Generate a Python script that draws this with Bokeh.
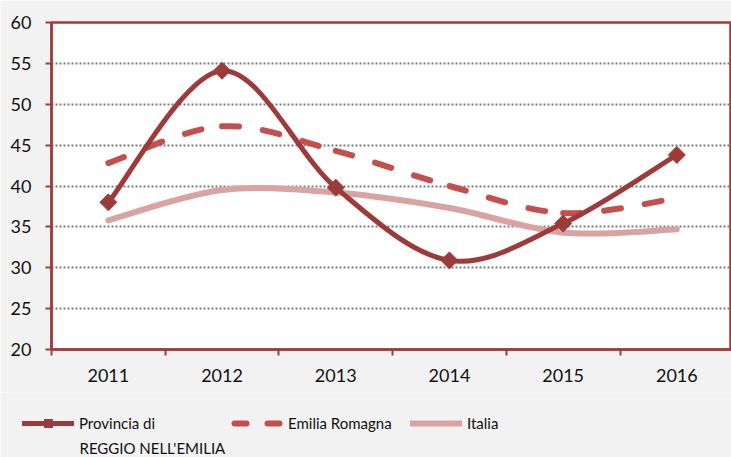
from bokeh.plotting import figure
from bokeh.layouts import column, row
from bokeh.models import Range1d, FixedTicker, Legend, LegendItem, Label, ColumnDataSource
from bokeh.embed import file_html
from bokeh.resources import INLINE
import numpy as np

years = ["2011", "2012", "2013", "2014", "2015", "2016"]
provincia = [38.0, 54.1, 39.8, 30.9, 35.4, 43.8]
emilia = [42.8, 47.3, 44.3, 40.0, 36.7, 38.5]
italia = [35.8, 39.5, 39.2, 37.3, 34.3, 34.7]
y_ticks = [20, 25, 30, 35, 40, 45, 50, 55, 60]

C_PROV = "#9c3b39"
C_EMIL = "#c44f4c"
C_ITAL = "#d9a3a2"
C_AXIS = "#a03c3a"
BG = "#f2f2f2"
FONT = "Lato"

p = figure(frame_width=680, frame_height=327, width=731, height=392,
           min_border_left=51, min_border_right=0, min_border_top=22, min_border_bottom=43,
           x_range=Range1d(-0.5, -0.5 + 680 / 113.7), y_range=Range1d(20, 60),
           output_backend="svg", toolbar_location=None)
p.background_fill_color = "white"
p.border_fill_color = BG
p.outline_line_color = C_AXIS
p.outline_line_width = 2.5

xs = list(range(len(years)))
p.xaxis.ticker = FixedTicker(ticks=xs, minor_ticks=[i + 0.5 for i in range(-1, len(years))])
p.xaxis.major_label_overrides = {i: y for i, y in enumerate(years)}
p.xaxis.major_tick_line_color = None
p.xaxis.minor_tick_line_color = C_AXIS
p.xaxis.minor_tick_line_width = 2
p.xaxis.minor_tick_out = 6
p.xaxis.minor_tick_in = 0
p.xaxis.major_label_standoff = 13
p.yaxis.ticker = FixedTicker(ticks=y_ticks)
p.yaxis.minor_tick_line_color = None
p.yaxis.major_tick_line_color = C_AXIS
p.yaxis.major_tick_line_width = 2
p.yaxis.major_tick_out = 6
p.yaxis.major_tick_in = 0
p.yaxis.major_label_standoff = 14
for ax in (p.xaxis, p.yaxis):
    ax.axis_line_color = C_AXIS
    ax.axis_line_width = 2.5
    ax.major_label_text_font = FONT
    ax.major_label_text_font_size = "18px"
    ax.major_label_text_color = "#111111"
p.xgrid.grid_line_color = None
p.ygrid.grid_line_color = "#7a7a7a"
p.ygrid.grid_line_width = 2
p.ygrid.grid_line_dash = "2 2"


def bez(vals):
    n = len(vals)
    x0, y0, x1, y1, cx0, cy0, cx1, cy1 = [], [], [], [], [], [], [], []
    for i in range(n - 1):
        im = max(i - 1, 0)
        ip2 = min(i + 2, n - 1)
        x0.append(i); y0.append(vals[i]); x1.append(i + 1); y1.append(vals[i + 1])
        cx0.append(i + (i + 1 - im) / 6); cy0.append(vals[i] + (vals[i + 1] - vals[im]) / 6)
        cx1.append(i + 1 - (ip2 - i) / 6); cy1.append(vals[i + 1] - (vals[ip2] - vals[i]) / 6)
    return dict(x0=x0, y0=y0, x1=x1, y1=y1, cx0=cx0, cy0=cy0, cx1=cx1, cy1=cy1)


p.bezier(source=ColumnDataSource(bez(italia)), x0="x0", y0="y0", x1="x1", y1="y1",
         cx0="cx0", cy0="cy0", cx1="cx1", cy1="cy1",
         line_color=C_ITAL, line_width=6, line_cap="round")
p.bezier(source=ColumnDataSource(bez(emilia)), x0="x0", y0="y0", x1="x1", y1="y1",
         cx0="cx0", cy0="cy0", cx1="cx1", cy1="cy1",
         line_color=C_EMIL, line_width=6, line_cap="round", line_dash="17 24")
p.bezier(source=ColumnDataSource(bez(provincia)), x0="x0", y0="y0", x1="x1", y1="y1",
         cx0="cx0", cy0="cy0", cx1="cx1", cy1="cy1",
         line_color=C_PROV, line_width=5, line_cap="round")
p.scatter(xs, provincia, marker="square", angle=np.pi / 4, size=12,
          fill_color=C_PROV, line_color=C_PROV)

# legend panel (separate figure below the chart); its ranges keep the
# legend-only copies of the series out of view
lf = figure(width=731, height=65, min_border=0, min_border_left=0,
            x_range=Range1d(1000, 1731), y_range=Range1d(1000, 1065),
            x_axis_location=None, y_axis_location=None, output_backend="svg", toolbar_location=None)
lf.background_fill_color = BG
lf.border_fill_color = BG
lf.outline_line_color = None
lf.xgrid.grid_line_color = None
lf.ygrid.grid_line_color = None

lp = lf.line(xs, provincia, line_color=C_PROV, line_width=5, line_cap="round")
sp = lf.scatter(xs, provincia, marker="square", angle=np.pi / 4,
                fill_color=C_PROV, line_color=C_PROV)
le = lf.line(xs, emilia, line_color=C_EMIL, line_width=6,
             line_cap="round", line_dash="12 21", line_dash_offset=-3)
li = lf.line(xs, italia, line_color=C_ITAL, line_width=6, line_cap="round")

labels = ["Provincia di", "Emilia Romagna", "Italia"]
rends = [[lp, sp], [le], [li]]
locs = [(22, 24), (231, 24), (410, 24)]
for lab, r, loc in zip(labels, rends, locs):
    lg = Legend(items=[LegendItem(label=lab, renderers=r)], location=loc,
                padding=0, margin=0, glyph_width=52, glyph_height=20, label_standoff=5,
                label_text_font=FONT, label_text_font_size="15px", label_text_color="#111111",
                border_line_alpha=0, background_fill_alpha=0)
    lf.add_layout(lg)

lf.add_layout(Label(x=79, y=10, x_units="screen", y_units="screen", text="REGGIO NELL'EMILIA",
                    text_font=FONT, text_font_size="15px", text_color="#111111",
                    text_baseline="middle"))

layout = column(p, row(lf), spacing=0)
open("out.html", "w").write(file_html(layout, INLINE))
